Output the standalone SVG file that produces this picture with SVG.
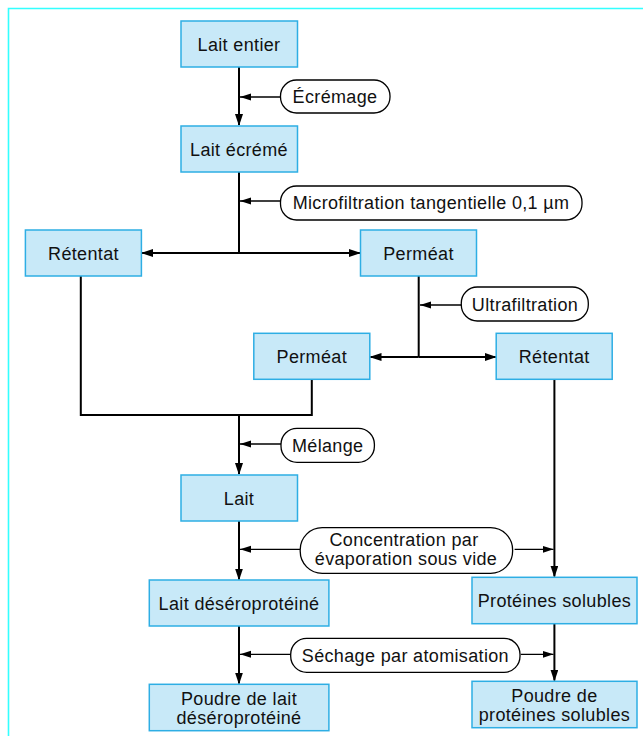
<svg xmlns="http://www.w3.org/2000/svg" width="643" height="736" viewBox="0 0 643 736">
<style>
.box{fill:#C8E9F8;stroke:#2EAEE4;stroke-width:1.5}
.pill{fill:#fff;stroke:#000;stroke-width:1.3}
.t{font-family:"Liberation Sans",Arial,sans-serif;font-size:18px;letter-spacing:0.35px;fill:#111;text-anchor:middle}
.main{fill:none;stroke:#000;stroke-width:2}
.thin{fill:none;stroke:#000;stroke-width:1.3}
</style>
<defs>
<marker id="ah" markerWidth="12" markerHeight="8" refX="11" refY="4" orient="auto" markerUnits="userSpaceOnUse">
<path d="M0,0 L12,4 L0,8 Z" fill="#000"/>
</marker>
<marker id="ahs" markerWidth="12" markerHeight="8" refX="11" refY="4" orient="auto" markerUnits="userSpaceOnUse">
<path d="M0,0.5 L11,4 L0,7.5 Z" fill="#000"/>
</marker>
</defs>
<rect x="0" y="0" width="643" height="736" fill="#fff"/>
<path d="M8.5,736 V8.5 H643" fill="none" stroke="#3FF" stroke-width="1.6"/>

<g id="connectors">
<path class="main" d="M239,67 V125" marker-end="url(#ah)"/>
<path class="thin" d="M280.5,97 H240" marker-end="url(#ahs)"/>
<path class="main" d="M239,172 V253"/>
<path class="thin" d="M280.5,201 H240" marker-end="url(#ahs)"/>
<path class="main" d="M239,253 H142" marker-end="url(#ah)"/>
<path class="main" d="M239,253 H360" marker-end="url(#ah)"/>
<path class="main" d="M418.7,276 V357"/>
<path class="thin" d="M461.3,305 H420" marker-end="url(#ahs)"/>
<path class="main" d="M418.7,357 H370.5" marker-end="url(#ah)"/>
<path class="main" d="M418.7,357 H495.7" marker-end="url(#ah)"/>
<path class="main" d="M80.8,276 V415 H311.8 V379"/>
<path class="main" d="M239,415 V474" marker-end="url(#ah)"/>
<path class="thin" d="M281,444 H240" marker-end="url(#ahs)"/>
<path class="main" d="M554.4,379 V576.5" marker-end="url(#ah)"/>
<path class="main" d="M239,521 V579.5" marker-end="url(#ah)"/>
<path class="thin" d="M300.2,549.3 H240" marker-end="url(#ahs)"/>
<path class="thin" d="M514.6,549.3 H553.5" marker-end="url(#ahs)"/>
<path class="main" d="M239,626 V683.5" marker-end="url(#ah)"/>
<path class="main" d="M554.4,624 V680.5" marker-end="url(#ah)"/>
<path class="thin" d="M290.7,654.3 H240" marker-end="url(#ahs)"/>
<path class="thin" d="M520.8,654.3 H553.5" marker-end="url(#ahs)"/>
</g>

<g id="lait-entier"><rect class="box" x="181" y="21" width="116.5" height="46"/><text class="t" x="239" y="50.5">Lait entier</text></g>
<g id="ecremage"><rect class="pill" x="280.5" y="80" width="109.5" height="33" rx="16"/><text class="t" x="335" y="103">Écrémage</text></g>
<g id="lait-ecreme"><rect class="box" x="181" y="126" width="116.5" height="46"/><text class="t" x="239" y="155.5">Lait écrémé</text></g>
<g id="microfiltration"><rect class="pill" x="280.5" y="186" width="301.5" height="34" rx="16"/><text class="t" x="431" y="209">Microfiltration tangentielle 0,1 µm</text></g>
<g id="retentat1"><rect class="box" x="25.4" y="230" width="116" height="46"/><text class="t" x="83.5" y="259.5">Rétentat</text></g>
<g id="permeat1"><rect class="box" x="360.5" y="230" width="116" height="46"/><text class="t" x="418.5" y="259.5">Perméat</text></g>
<g id="ultrafiltration"><rect class="pill" x="461.3" y="287" width="127" height="34" rx="16"/><text class="t" x="525" y="311">Ultrafiltration</text></g>
<g id="permeat2"><rect class="box" x="253.8" y="333.3" width="116" height="46"/><text class="t" x="311.8" y="363">Perméat</text></g>
<g id="retentat2"><rect class="box" x="496.2" y="333.3" width="116" height="46"/><text class="t" x="554.2" y="363">Rétentat</text></g>
<g id="melange"><rect class="pill" x="281" y="428.3" width="93.4" height="34" rx="16"/><text class="t" x="327.7" y="451.5">Mélange</text></g>
<g id="lait"><rect class="box" x="181" y="475" width="116.5" height="46"/><text class="t" x="239" y="504.5">Lait</text></g>
<g id="concentration"><rect class="pill" x="300.2" y="527.7" width="212.4" height="45.6" rx="22"/><text class="t" x="404" y="546">Concentration par</text><text class="t" x="406" y="565">évaporation sous vide</text></g>
<g id="lait-deseroproteine"><rect class="box" x="149.3" y="580" width="179.6" height="46"/><text class="t" x="239" y="609.5">Lait déséroprotéiné</text></g>
<g id="proteines-solubles"><rect class="box" x="472" y="577.3" width="165" height="46.4"/><text class="t" x="554.4" y="606.5">Protéines solubles</text></g>
<g id="sechage"><rect class="pill" x="290.7" y="638.3" width="229.3" height="34" rx="16"/><text class="t" x="405.4" y="661.5">Séchage par atomisation</text></g>
<g id="poudre-lait"><rect class="box" x="149.3" y="684.3" width="179.6" height="46.4"/><text class="t" x="239" y="705">Poudre de lait</text><text class="t" x="239" y="724">déséroprotéiné</text></g>
<g id="poudre-proteines"><rect class="box" x="472" y="681.3" width="165" height="46.4"/><text class="t" x="554.4" y="702">Poudre de</text><text class="t" x="554.4" y="721">protéines solubles</text></g>
</svg>
